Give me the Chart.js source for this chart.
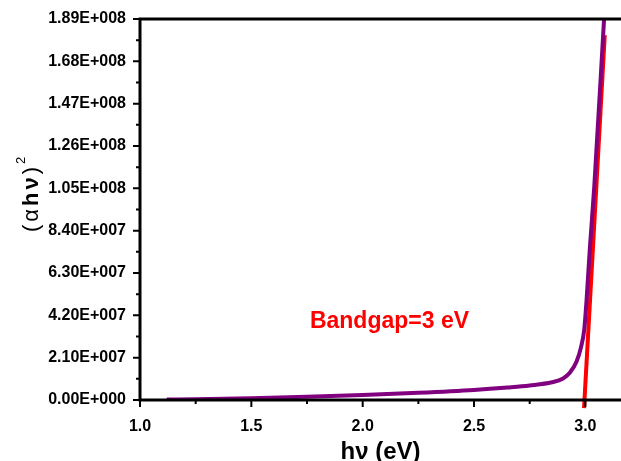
<!DOCTYPE html>
<html>
<head>
<meta charset="utf-8">
<script src="https://cdn.jsdelivr.net/npm/chart.js@4.4.1/dist/chart.umd.min.js"></script>
<style>
  html, body { margin: 0; padding: 0; background: #fff; }
  #wrap { width: 621px; height: 461px; position: relative; }
</style>
</head>
<body>
<div id="wrap"><canvas id="chart"></canvas></div>
<script>
// photon energy (eV) and (alpha h nu)^2
const hvValues = [1.12, 1.25, 1.5, 1.75, 2.0, 2.25, 2.5, 2.65, 2.75, 2.85, 2.9, 2.93, 2.96, 2.98, 2.995, 3.005, 3.02, 3.04, 3.084];
const ahv2Values = [2e5, 4e5, 9e5, 1.6e6, 2.5e6, 3.6e6, 5.0e6, 6.2e6, 7.2e6, 8.8e6, 1.07e7, 1.35e7, 1.9e7, 2.6e7, 3.5e7, 4.9e7, 7.5e7, 1.06e8, 1.89e8];

// linear fit (Tauc extrapolation)
const fitX = [2.994, 3.087];
const fitY = [-4e6, 1.81e8];

const xTicks = [1.0, 1.5, 2.0, 2.5, 3.0];
const xMinorTicks = [1.25, 1.75, 2.25, 2.75];
const yTicks = [0, 2.1e7, 4.2e7, 6.3e7, 8.4e7, 1.05e8, 1.26e8, 1.47e8, 1.68e8, 1.89e8];
const yMinorTicks = [1.05e7, 3.15e7, 5.25e7, 7.35e7, 9.45e7, 1.155e8, 1.365e8, 1.575e8, 1.785e8];

const xTitle = 'hν (eV)';
const bandgapLabel = 'Bandgap=3 eV';
const labelAt = { x: 1.763, y: 3.87e7 };

const FONT = '"Liberation Sans", Arial, sans-serif';

function sci(v) {
    if (v === 0) {
        return '0.00E+000';
    }
    const e = Math.floor(Math.log10(Math.abs(v)) + 1e-9);
    const m = v / Math.pow(10, e);
    return m.toFixed(2) + 'E+' + String(e).padStart(3, '0');
}

const frame = {
    id: 'frame',
    afterDatasetsDraw(chart) {
        const ctx = chart.ctx;
        const xs = chart.scales.x;
        const ys = chart.scales.y;
        const area = chart.chartArea;
        ctx.save();
        ctx.strokeStyle = '#000';
        ctx.lineCap = 'butt';

        // axes and top line
        ctx.lineWidth = 3;
        ctx.beginPath();
        ctx.moveTo(area.left, area.bottom);
        ctx.lineTo(area.right, area.bottom);
        ctx.moveTo(area.left, area.bottom + 1.5);
        ctx.lineTo(area.left, area.top);
        ctx.moveTo(area.left - 1.5, area.top);
        ctx.lineTo(chart.width, area.top);
        ctx.stroke();

        ctx.lineWidth = 2;
        ctx.beginPath();
        xTicks.forEach((v) => {
            const px = xs.getPixelForValue(v);
            ctx.moveTo(px, area.bottom);
            ctx.lineTo(px, area.bottom + 7);
        });
        xMinorTicks.forEach((v) => {
            const px = xs.getPixelForValue(v);
            ctx.moveTo(px, area.bottom);
            ctx.lineTo(px, area.bottom + 4);
        });
        yTicks.forEach((v) => {
            const py = ys.getPixelForValue(v);
            ctx.moveTo(area.left, py);
            ctx.lineTo(area.left - 7, py);
        });
        yMinorTicks.forEach((v) => {
            const py = ys.getPixelForValue(v);
            ctx.moveTo(area.left, py);
            ctx.lineTo(area.left - 4, py);
        });
        ctx.stroke();

        // annotation
        ctx.fillStyle = '#ff0000';
        ctx.font = 'bold 23px ' + FONT;
        ctx.textBaseline = 'middle';
        ctx.textAlign = 'left';
        ctx.fillText(bandgapLabel, xs.getPixelForValue(labelAt.x), ys.getPixelForValue(labelAt.y));

        // y title (alpha h nu)^2 rotated
        ctx.fillStyle = '#000';
        ctx.translate(31, 198);
        ctx.rotate(-Math.PI / 2);
        const gap = 3;
        const parts = [
            { t: '(', f: '22px ' + FONT },
            { t: 'α', f: '22px ' + FONT },
            { t: 'h', f: 'bold 22px ' + FONT },
            { t: 'ν', f: 'bold 22px ' + FONT },
            { t: ')', f: '22px ' + FONT },
        ];
        let total = 0;
        parts.forEach((p) => { ctx.font = p.f; total += ctx.measureText(p.t).width + gap; });
        let cx = -total / 2;
        ctx.textAlign = 'left';
        ctx.textBaseline = 'alphabetic';
        parts.forEach((p) => {
            ctx.font = p.f;
            ctx.fillText(p.t, cx, 7);
            cx += ctx.measureText(p.t).width + gap;
        });
        ctx.font = '13px ' + FONT;
        ctx.fillText('2', cx, -6);
        ctx.restore();
    },
};

new Chart(document.getElementById('chart'), {
    type: 'scatter',
    data: {
        datasets: [{
            label: '(αhν)²',
            data: hvValues.map((x, i) => ({ x: x, y: ahv2Values[i] })),
            showLine: true,
            borderColor: '#800080',
            borderWidth: 4,
            pointRadius: 0,
            cubicInterpolationMode: 'monotone',
        }, {
            label: 'fit',
            data: fitX.map((x, i) => ({ x: x, y: fitY[i] })),
            showLine: true,
            borderColor: '#ff0000',
            borderWidth: 4,
            pointRadius: 0,
            clip: false,
        }],
    },
    options: {
        responsive: true,
        maintainAspectRatio: false,
        animation: false,
        layout: { padding: { top: 19, right: 0, left: 0, bottom: 0 } },
        plugins: { legend: { display: false }, tooltip: { enabled: false } },
        scales: {
            x: {
                type: 'linear',
                min: 1.0,
                max: 3.16,
                grid: { display: false },
                border: { display: false },
                afterBuildTicks: (scale) => { scale.ticks = xTicks.map((v) => ({ value: v })); },
                afterFit: (scale) => { scale.height = 61; },
                ticks: {
                    padding: 9,
                    color: '#000',
                    font: { family: FONT, size: 16, weight: 'bold' },
                    callback: (v) => v.toFixed(1),
                },
                title: {
                    display: true,
                    text: xTitle,
                    color: '#000',
                    padding: { top: 0, bottom: -6 },
                    font: { family: FONT, size: 24, weight: 'bold' },
                },
            },
            y: {
                type: 'linear',
                min: 0,
                max: 1.89e8,
                grid: { display: false },
                border: { display: false },
                afterBuildTicks: (scale) => { scale.ticks = yTicks.map((v) => ({ value: v })); },
                afterFit: (scale) => { scale.width = 140; },
                ticks: {
                    padding: 6,
                    color: '#000',
                    font: { family: FONT, size: 16, weight: 'bold' },
                    callback: (v) => sci(v),
                },
            },
        },
    },
    plugins: [frame],
});
</script>
</body>
</html>
